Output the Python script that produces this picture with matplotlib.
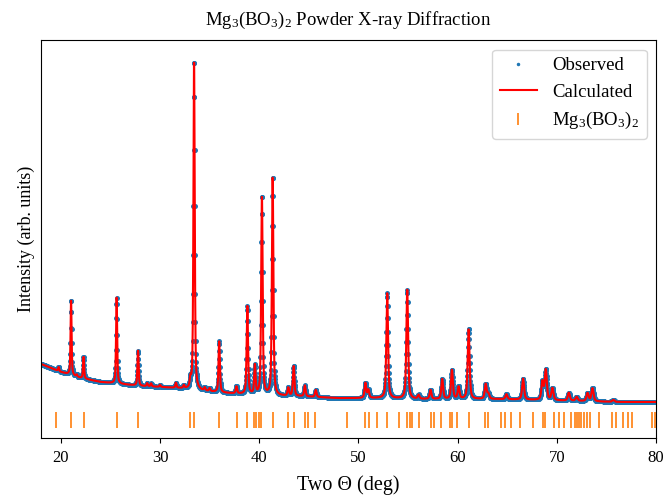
import numpy as np
import matplotlib
matplotlib.use("Agg")
import matplotlib.pyplot as plt
from matplotlib.lines import Line2D

plt.rcParams["font.family"] = ["Liberation Serif", "DejaVu Serif"]
plt.rcParams["mathtext.fontset"] = "custom"
plt.rcParams["mathtext.rm"] = "Liberation Serif"
plt.rcParams["mathtext.it"] = "Liberation Serif:italic"

# Refined peak list: 2-theta position (deg) and peak intensity above background (counts)
peak_pos = [19.78, 21.03, 21.60, 22.29, 25.62, 27.78, 28.70, 29.10, 30.00, 31.60,
            32.40, 33.06, 33.43, 34.50, 35.00, 35.96, 37.70, 38.80, 39.56, 40.27,
            41.35, 42.93, 43.47, 44.60, 45.70, 50.70, 51.00, 52.90, 54.92, 56.06,
            57.27, 58.45, 59.43, 60.10, 61.11, 62.83, 63.10, 64.92, 66.60, 68.55,
            68.89, 69.56, 71.21, 72.00, 73.10, 73.60, 75.70]
peak_height = [120, 2280, 60, 660, 2580, 1050, 90, 90, 60, 150,
               90, 240, 9960, 90, 90, 1530, 210, 2640, 870, 6000,
               6600, 240, 900, 330, 210, 450, 240, 3150, 3270, 120,
               270, 600, 870, 360, 2100, 450, 150, 150, 630, 540,
               900, 360, 240, 120, 240, 390, 60]

# Background anchor points (deg, counts)
bg_pos = [18, 20, 22, 24, 26, 28, 30, 32, 34, 36, 38, 40, 44, 48, 52, 56, 60, 64, 68, 72, 76, 80]
bg_counts = [1820, 1580, 1400, 1280, 1220, 1160, 1130, 1090, 1020, 960, 920, 870, 850,
             795, 795, 765, 765, 765, 740, 710, 680, 680]

# Allowed reflection positions of Mg3(BO3)2 (deg)
hkl_pos = [19.47, 21.03, 22.30, 25.62, 27.80, 33.05, 33.46, 35.96, 37.73, 38.80,
           39.49, 39.70, 39.95, 40.19, 41.34, 42.94, 43.47, 44.62, 44.91, 45.65,
           48.81, 50.70, 51.03, 51.89, 52.91, 54.06, 54.88, 55.17, 55.42, 56.07,
           57.35, 57.63, 58.37, 59.19, 59.48, 59.93, 61.12, 62.80, 63.09, 64.36,
           64.82, 65.43, 66.29, 67.56, 68.59, 68.84, 69.74, 70.27, 70.73, 71.38,
           71.83, 72.00, 72.20, 72.45, 72.74, 73.02, 73.35, 74.25, 75.61, 75.94,
           76.63, 77.13, 77.62, 79.59, 79.92]
hkl_level = 140

# Profile parameters (pseudo-Voigt)
fwhm0, fwhm_slope, eta = 0.12, 0.0025, 0.55
step = 0.02

two_theta = np.arange(18.0, 80.0 + step / 2, step)


def pseudo_voigt(x, x0, h, w):
    hw = w / 2.0
    lor = 1.0 / (1.0 + ((x - x0) / hw) ** 2)
    gau = np.exp(-np.log(2) * ((x - x0) / hw) ** 2)
    return h * (eta * lor + (1 - eta) * gau)


calc = np.interp(two_theta, bg_pos, bg_counts).astype(float)
for p, h in zip(peak_pos, peak_height):
    calc += pseudo_voigt(two_theta, p, h, fwhm0 + fwhm_slope * (p - 20))
obs = calc.copy()

fig = plt.figure(figsize=(6.66, 4.96), dpi=100)
ax = fig.add_axes([0.0616, 0.117, 0.9234, 0.802])

ax.plot(two_theta, obs, "o", ms=3.6, mew=0, color="#1f77b4")
ax.plot(two_theta, calc, "-", lw=1.5, color="red")
ax.plot(hkl_pos, [hkl_level] * len(hkl_pos), "|", ms=11.5, mew=1.2, color="#ff7f0e")

ax.set_xlim(18, 80)
ax.set_ylim(-400, 11540)
ax.set_yticks([])
ax.tick_params(axis="x", labelsize=12, pad=5)
ax.set_xlabel("Two Θ (deg)", fontsize=14.5, labelpad=7)
ax.set_ylabel("Intensity (arb. units)", fontsize=13)
ax.set_title("Mg$_3$(BO$_3$)$_2$ Powder X-ray Diffraction", fontsize=13.5, pad=11)

handles = [
    Line2D([], [], ls="", marker=".", ms=3, color="#1f77b4"),
    Line2D([], [], ls="-", lw=1.5, color="red"),
    Line2D([], [], ls="", marker="|", ms=9, mew=1.2, color="#ff7f0e"),
]
ax.legend(handles, ["Observed", "Calculated", "Mg$_3$(BO$_3$)$_2$"],
          loc="upper right", fontsize=13.5)

fig.savefig("out.png", dpi=100)
